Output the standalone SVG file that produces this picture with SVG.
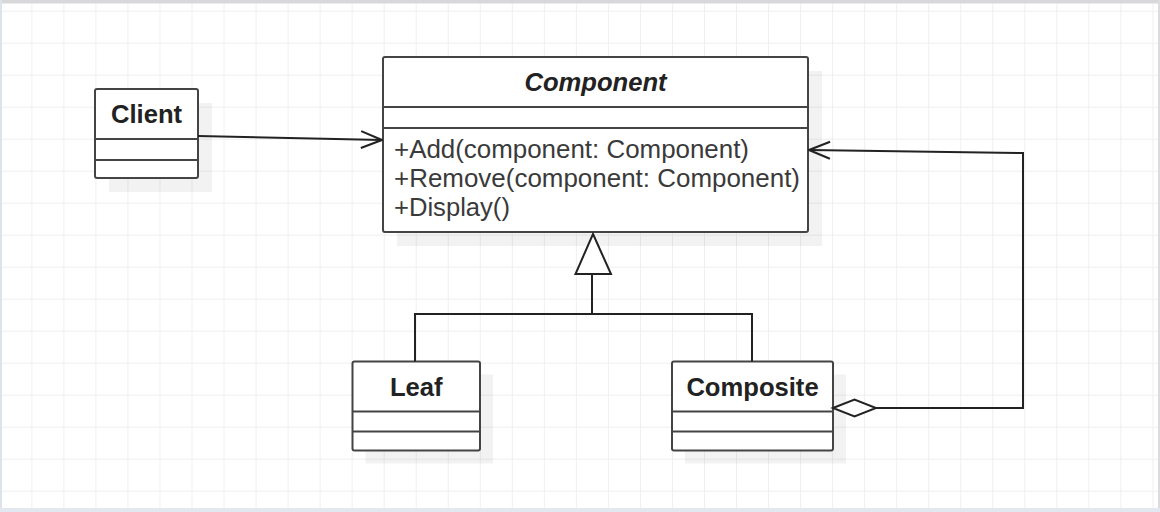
<svg xmlns="http://www.w3.org/2000/svg" width="1160" height="512" viewBox="0 0 1160 512">
<defs>
<pattern id="grid" x="0.3" y="10.7" width="32.03" height="32" patternUnits="userSpaceOnUse">
<path d="M32.03 0V32M0 0H32.03" fill="none" stroke="#efefef" stroke-width="2"/>
</pattern>
<marker id="open" viewBox="0 0 24 20" refX="23" refY="10" markerWidth="24" markerHeight="20" markerUnits="userSpaceOnUse" orient="auto">
<path d="M2 1.5L23 10L2 18.5" fill="none" stroke="#222" stroke-width="2"/>
</marker>
</defs>
<style>
.box{fill:#fff;stroke:#444;stroke-width:2}
.shadow{fill:#000;fill-opacity:0.05}
.div{stroke:#444;stroke-width:2}
.title{font-family:"Liberation Sans",Arial,sans-serif;font-size:25.6px;font-weight:bold;fill:#222;text-anchor:middle}
.meth{font-family:"Liberation Sans",Arial,sans-serif;font-size:25.6px;fill:#3a3a3a}
.edge{fill:none;stroke:#222;stroke-width:2}
</style>
<rect width="1160" height="512" fill="#fff"/>
<rect width="1160" height="512" fill="url(#grid)"/>
<rect x="0" y="0" width="1160" height="3.5" fill="#d8d8da"/>
<rect x="0" y="0" width="2" height="512" fill="#dde3ec"/>
<rect x="1158" y="0" width="2" height="512" fill="#dcdcde"/>
<rect x="0" y="508" width="1160" height="4" fill="#e3e8f0"/>

<g id="client">
<rect class="shadow" x="109" y="103" width="103" height="89"/>
<rect class="box" x="95" y="89" width="103" height="89" rx="2"/>
<line class="div" x1="95" y1="139" x2="198" y2="139"/>
<line class="div" x1="95" y1="160" x2="198" y2="160"/>
<text class="title" x="146.5" y="123.3">Client</text>
</g>

<g id="component">
<rect class="shadow" x="397" y="71" width="425" height="175"/>
<rect class="box" x="383" y="57" width="425" height="175" rx="2"/>
<line class="div" x1="383" y1="107" x2="808" y2="107"/>
<line class="div" x1="383" y1="128" x2="808" y2="128"/>
<text class="title" x="595.5" y="90.7" font-style="italic">Component</text>
<text class="meth" x="394" y="157.5" textLength="355" lengthAdjust="spacingAndGlyphs">+Add(component: Component)</text>
<text class="meth" x="394" y="187" textLength="406" lengthAdjust="spacingAndGlyphs">+Remove(component: Component)</text>
<text class="meth" x="394" y="216">+Display()</text>
</g>

<g id="leaf">
<rect class="shadow" x="365.5" y="374.5" width="127.5" height="89"/>
<rect class="box" x="352.5" y="361.5" width="127.5" height="89" rx="2"/>
<line class="div" x1="352.5" y1="411.5" x2="480" y2="411.5"/>
<line class="div" x1="352.5" y1="431.5" x2="480" y2="431.5"/>
<text class="title" x="416.2" y="395.6">Leaf</text>
</g>

<g id="composite">
<rect class="shadow" x="685" y="374.5" width="161" height="89"/>
<rect class="box" x="672" y="361.5" width="161" height="89" rx="2"/>
<line class="div" x1="672" y1="411.5" x2="833" y2="411.5"/>
<line class="div" x1="672" y1="431.5" x2="833" y2="431.5"/>
<text class="title" x="752.5" y="395.6">Composite</text>
</g>

<g id="connectors">
<line class="edge" x1="198" y1="136" x2="382" y2="140" marker-end="url(#open)"/>
<path class="edge" d="M876 408H1023V153L809 150" marker-end="url(#open)"/>
<path d="M833 408L854.5 399.5L876 408L854.5 416.5Z" fill="#fff" stroke="#222" stroke-width="2" stroke-linejoin="miter"/>
<path class="edge" d="M415 361.5V314H752V361.5M592 314V274"/>
<path d="M593 234L611 274H575.5Z" fill="#fff" stroke="#222" stroke-width="2" stroke-linejoin="miter"/>
</g>
</svg>
